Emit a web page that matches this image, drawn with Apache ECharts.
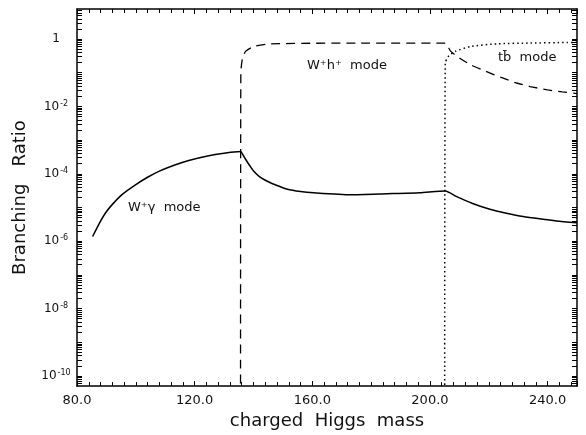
<!DOCTYPE html>
<html>
<head>
<meta charset="utf-8">
<script src="https://cdn.jsdelivr.net/npm/echarts@6/dist/echarts.min.js"></script>
<style>
html, body { margin: 0; padding: 0; background: #fff; }
#plot { width: 586px; height: 435px; }
</style>
</head>
<body>
<div id="plot"></div>
<script>
// W+ gamma mode (solid)
const gammaX = [85.3, 87.6, 89.8, 92.1, 95.5, 100.0, 104.0, 108.0, 113.0, 118.0, 124.4, 130.0, 134.5, 135.6,
  136.8, 137.9, 139.0, 140.2, 142.0, 144.7, 148.0, 151.5, 156.0, 160.5, 173.0, 185.4, 196.5, 205.2,
  209.1, 214.5, 220.4, 226.0, 231.7, 237.3, 243.0, 250.0];
const gammaY = [1.38e-6, 3.4e-6, 7.1e-6, 1.26e-5, 2.5e-5, 4.8e-5, 7.9e-5, 1.2e-4, 1.8e-4, 2.5e-4, 3.4e-4, 4.1e-4, 4.5e-4, 4.6e-4,
  3.2e-4, 2.24e-4, 1.62e-4, 1.17e-4, 8.3e-5, 6.0e-5, 4.5e-5, 3.5e-5, 3.0e-5, 2.75e-5, 2.4e-5, 2.57e-5, 2.75e-5, 3.1e-5,
  2.1e-5, 1.32e-5, 8.9e-6, 6.8e-6, 5.4e-6, 4.6e-6, 4.0e-6, 3.55e-6];

// W+ h+ mode (dashed)
const whX = [135.6, 135.7, 136.2, 137.3, 140.1, 145.8, 175.0, 205.2,
  207.0, 210.0, 214.0, 219.0, 224.0, 229.0, 234.0, 240.0, 245.0, 250.0];
const whY = [1e-12, 0.1, 0.25, 0.43, 0.6, 0.72, 0.76, 0.76,
  0.437, 0.275, 0.170, 0.110, 0.074, 0.051, 0.039, 0.031, 0.027, 0.024];

// t bbar mode (dotted)
const tbX = [205.0, 205.2, 206.3, 208.6, 213.7, 222.8, 234.1, 246.5, 250.0];
const tbY = [1e-12, 0.19, 0.31, 0.43, 0.60, 0.72, 0.76, 0.79, 0.80];

const xTickLabels = [80, 120, 160, 200, 240];
const yTickLabels = [1e-10, 1e-8, 1e-6, 1e-4, 1e-2, 1];

const xMin = 80, xMax = 250;
const yMin = 5e-11, yMax = 7.8;

// log-style minor ticks, 1..9 per decade
const yTicks = [];
for (let n = -11; n <= 0; n++) {
  for (let k = 1; k <= 9; k++) {
    const v = k * Math.pow(10, n);
    if (v >= yMin && v <= yMax) yTicks.push(v);
  }
}

function pairs(xs, ys) {
  return xs.map((x, i) => [x, ys[i]]);
}

const font = 'DejaVu Sans';

const chart = echarts.init(document.getElementById('plot'));
const tickStyle = { show: true, inside: true, length: 5, lineStyle: { color: '#000', width: 1 } };
const minorStyle = { show: true, splitNumber: 10, length: 4, lineStyle: { color: '#000', width: 1 } };
chart.setOption({
  animation: false,
  backgroundColor: '#fff',
  grid: { left: 77, right: 9, top: 9, bottom: 46 },
  xAxis: [{
    type: 'value',
    min: xMin,
    max: xMax,
    interval: 40,
    name: 'charged  Higgs  mass',
    nameLocation: 'middle',
    nameGap: 25,
    nameTextStyle: { fontFamily: font, fontSize: 18, color: '#111' },
    axisLine: { lineStyle: { color: '#000', width: 1.5 } },
    axisTick: tickStyle,
    minorTick: minorStyle,
    splitLine: { show: false },
    axisLabel: {
      customValues: xTickLabels,
      formatter: v => v.toFixed(1),
      fontFamily: font, fontSize: 13, color: '#111', margin: 8
    }
  }, {
    type: 'value',
    position: 'top',
    min: xMin,
    max: xMax,
    interval: 40,
    axisLine: { show: true, lineStyle: { color: '#000', width: 1.5 } },
    axisTick: tickStyle,
    minorTick: minorStyle,
    splitLine: { show: false },
    axisLabel: { show: false }
  }],
  yAxis: [{
    type: 'log',
    min: yMin,
    max: yMax,
    name: 'Branching   Ratio',
    nameLocation: 'middle',
    nameGap: 48,
    nameTextStyle: { fontFamily: font, fontSize: 18, color: '#111' },
    axisLine: { show: true, lineStyle: { color: '#000', width: 1.5 } },
    axisTick: Object.assign({}, tickStyle, { customValues: yTicks }),
    splitLine: { show: false },
    axisLabel: {
      customValues: yTickLabels,
      margin: 21,
      align: 'center',
      formatter: v => {
        const e = Math.round(Math.log10(v));
        return e === 0 ? '{b|1}' : '{b|10}{s|' + e + '}';
      },
      rich: {
        b: { fontFamily: font, fontSize: 12, color: '#111' },
        s: { fontFamily: font, fontSize: 8, color: '#111', verticalAlign: 'top', padding: [0, 0, 6, 1] }
      }
    }
  }, {
    type: 'log',
    position: 'right',
    min: yMin,
    max: yMax,
    axisLine: { show: true, lineStyle: { color: '#000', width: 1.5 } },
    axisTick: Object.assign({}, tickStyle, { customValues: yTicks }),
    splitLine: { show: false },
    axisLabel: { show: false }
  }],
  series: [{
    name: 'W+γ mode',
    type: 'line',
    data: pairs(gammaX, gammaY),
    showSymbol: false,
    smooth: 0.2,
    clip: true,
    lineStyle: { color: '#000', width: 1.5 }
  }, {
    name: 'W+h+ mode',
    type: 'line',
    data: pairs(whX, whY),
    showSymbol: false,
    smooth: 0.2,
    clip: true,
    lineStyle: { color: '#000', width: 1.3, type: [9, 6] }
  }, {
    name: 'tb mode',
    type: 'line',
    data: pairs(tbX, tbY),
    showSymbol: false,
    smooth: 0.2,
    clip: true,
    lineStyle: { color: '#000', width: 1.5, type: [1.5, 3] }
  }],
  graphic: [
    { type: 'text', left: 128, top: 201, style: { text: 'W⁺γ  mode', font: '13px "DejaVu Sans"', fill: '#111' } },
    { type: 'text', left: 307, top: 59, style: { text: 'W⁺h⁺  mode', font: '13px "DejaVu Sans"', fill: '#111' } },
    { type: 'text', left: 498, top: 51, style: { text: 'tb̄  mode', font: '13px "DejaVu Sans"', fill: '#111' } }
  ]
});
</script>
</body>
</html>
